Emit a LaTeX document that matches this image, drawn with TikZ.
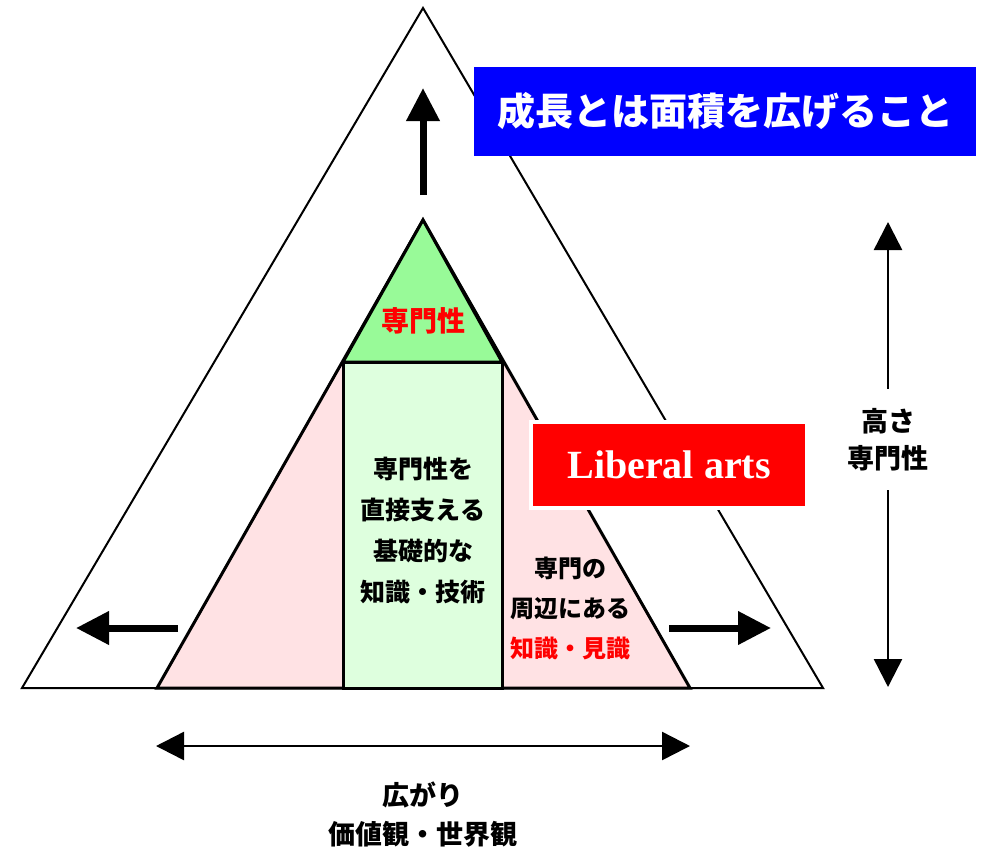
\documentclass[tikz,border=0pt]{standalone}
\usepackage{fontspec}
\setmainfont{Liberation Serif}
\newfontfamily\jp{Noto Sans CJK JP}
\usetikzlibrary{arrows.meta}
\definecolor{pinkfill}{RGB}{255,226,228}
\definecolor{midgreen}{RGB}{152,250,152}
\definecolor{palegreen}{RGB}{222,255,222}
\begin{document}
\begin{tikzpicture}[x=1pt,y=-1pt,
  jptext/.style={inner sep=0pt, align=center},
  bigarrow/.style={line width=7pt, -{Triangle[length=33pt,width=32pt]}},
  dimarrow/.style={line width=2.5pt, {Triangle[length=28pt,width=28pt]}-{Triangle[length=28pt,width=28pt]}},
  dimhalf/.style={line width=2.5pt, -{Triangle[length=28pt,width=28pt]}}]
\useasboundingbox (0,0) rectangle (982,852);
% shapes
\draw[line width=2pt, fill=white] (423,8) -- (823,688) -- (22,688) -- cycle;
\draw[line width=3pt, fill=pinkfill] (423,220) -- (690,688) -- (157,688) -- cycle;
\draw[line width=3pt, fill=palegreen] (343,362) rectangle (502,688);
\draw[line width=3pt, fill=midgreen] (423,220) -- (502,362) -- (343,362) -- cycle;
% growth arrows
\coordinate (upS) at (423,195); \coordinate (upE) at (423,88);
\coordinate (lfS) at (178,628); \coordinate (lfE) at (76,628);
\coordinate (rtS) at (669,628); \coordinate (rtE) at (771,628);
\draw[bigarrow] (upS) -- (upE);
\draw[bigarrow] (lfS) -- (lfE);
\draw[bigarrow] (rtS) -- (rtE);
% boxes
\node[fill=blue, minimum width=502pt, minimum height=89pt, inner sep=0pt, text=white,
  font=\jp\bfseries\fontsize{38}{44}\selectfont] (goal) at (725,111.5) {成長とは面積を広げること};
\node[fill=red, draw=white, line width=4pt, minimum width=276pt, minimum height=86pt, inner sep=0pt, text=white,
  font=\bfseries\fontsize{40}{46}\selectfont] (lib) at (669,465) {Liberal arts};
% texts
\node[jptext, text=red, font=\jp\bfseries\fontsize{28}{32}\selectfont] (spec) at (423,321) {専門性};
\node[jptext, font=\jp\bfseries\fontsize{25}{41}\selectfont] (base) at (423,531) {専門性を\\直接支える\\基礎的な\\知識・技術};
\node[jptext, font=\jp\bfseries\fontsize{24}{40}\selectfont] (peri) at (570,608) {専門の\\周辺にある\\\textcolor{red}{知識・見識}};
% height dimension
\node[jptext, minimum height=101pt, font=\jp\bfseries\fontsize{27}{37}\selectfont] (hlab) at (888,439.5) {高さ\\専門性};
\coordinate (htop) at (888,222);
\coordinate (hbot) at (888,687);
\draw[dimhalf] (hlab.north) -- (htop);
\draw[dimhalf] (hlab.south) -- (hbot);
% width dimension
\coordinate (wl) at (156,746);
\coordinate (wr) at (690,746);
\draw[dimarrow] (wl) -- (wr);
\node[jptext, font=\jp\bfseries\fontsize{27}{39}\selectfont] (wlab) at (423,815) {広がり\\価値観・世界観};
\end{tikzpicture}
\end{document}
